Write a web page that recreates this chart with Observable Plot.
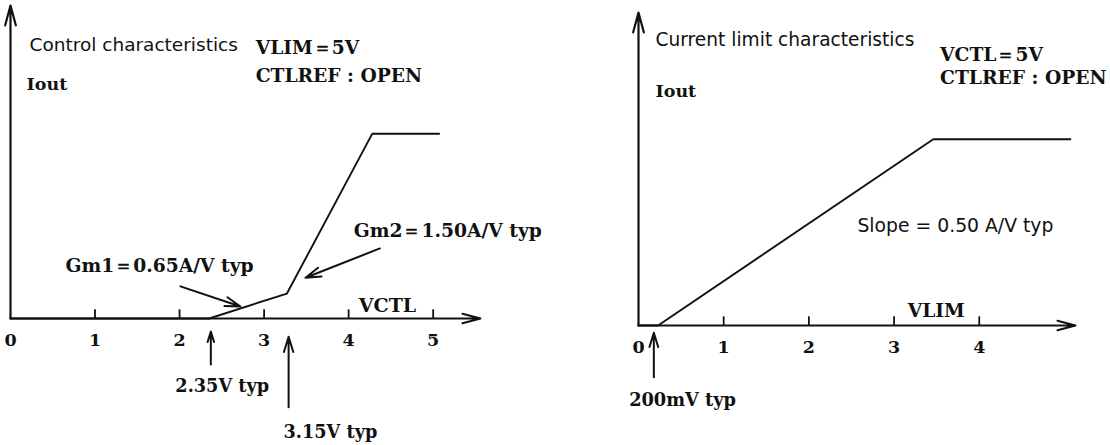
<!DOCTYPE html>
<html><head><meta charset="utf-8">
<script src="https://cdn.jsdelivr.net/npm/d3@7"></script>
<script src="https://cdn.jsdelivr.net/npm/@observablehq/plot@0.6"></script>
<style>
body{margin:0;background:#fff}
#wrap{position:relative;width:1110px;height:445px;background:#fff}
.p{position:absolute;top:0}
</style>
</head><body><div id="wrap"></div>
<script>
// Control characteristics (VLIM = 5V)
const ctlV = [0, 2.35, 3.27, 4.28, 5.07];
const ctlI = [0, 0, 0.52, 3.85, 3.85];
const ctlTicks = [0, 1, 2, 3, 4, 5];
// Current limit characteristics (VCTL = 5V)
const limV = [0, 0.23, 3.46, 5.07];
const limI = [0, 0, 3.88, 3.88];
const limTicks = [0, 1, 2, 3, 4];

const SERIF = "'DejaVu Serif', 'Liberation Serif', serif";
const SANS = "'DejaVu Sans', 'Liberation Sans', sans-serif";

function txt(s, x, y, o = {}) {
  return Plot.text([s], {x: () => x, y: () => y, text: d => d, textAnchor: "start", lineAnchor: "bottom",
    fontFamily: o.sans ? SANS : SERIF, fontWeight: o.sans ? "normal" : "bold",
    fontSize: o.size || 18.7, fill: "#111"});
}

function panel(opts) {
  const {V, I, ticks, xMax, yMax, ml, mr, mt, mb, texts, arrows} = opts;
  const pts = V.map((v, i) => ({v, i: I[i]}));
  const tickRows = ticks.map(t => ({t}));
  return Plot.plot({
    width: 555, height: 445,
    marginLeft: ml, marginRight: mr, marginTop: mt, marginBottom: mb,
    x: {domain: [0, xMax], axis: null},
    y: {domain: [0, yMax], axis: null},
    style: {background: "transparent", overflow: "visible"},
    marks: [
      // axes with arrowheads
      Plot.arrow([0], {x1: 0, y1: 0, x2: xMax, y2: 0, stroke: "#111", strokeWidth: 2, headLength: 14, headAngle: 30}),
      Plot.arrow([0], {x1: 0, y1: 0, x2: 0, y2: yMax, stroke: "#111", strokeWidth: 2.2, headLength: 14, headAngle: 30}),
      // tick marks
      Plot.ruleX(tickRows.filter(d => d.t > 0), {x: "t", y1: 0, y2: 0.18, stroke: "#111", strokeWidth: 1.8}),
      // tick labels
      Plot.text(tickRows, {x: "t", y: () => -0.57, text: d => String(d.t), lineAnchor: "bottom",
        fontFamily: SERIF, fontWeight: "bold", fontSize: 17.5, fill: "#111"}),
      // characteristic curve
      Plot.line(pts, {x: "v", y: "i", stroke: "#111", strokeWidth: 1.9}),
      // annotation arrows
      ...arrows.map(a => Plot.arrow([0], {x1: () => a[0], y1: () => a[1], x2: () => a[2], y2: () => a[3],
        stroke: "#111", strokeWidth: 2, headLength: 12, headAngle: 34})),
      ...texts
    ]
  });
}

const left = panel({
  V: ctlV, I: ctlI, ticks: ctlTicks, xMax: 5.56, yMax: 6.52,
  ml: 10, mr: 75, mt: 5, mb: 127,
  arrows: [
    [2.01, 0.67, 2.72, 0.25],
    [4.37, 1.46, 3.49, 0.85],
    [2.37, -0.96, 2.37, -0.27],
    [3.29, -1.85, 3.29, -0.38]
  ],
  texts: [
    txt("Control characteristics", 0.225, 5.58, {sans: true, size: 18.5}),
    txt("VLIM＝5V", 2.90, 5.52),
    txt("CTLREF : OPEN", 2.90, 4.92),
    txt("Iout", 0.19, 4.77, {size: 17.5}),
    txt("Gm1＝0.65A/V typ", 0.65, 0.96),
    txt("Gm2＝1.50A/V typ", 4.06, 1.69),
    txt("VCTL", 4.12, 0.125, {size: 19}),
    txt("2.35V typ", 1.95, -1.54, {size: 17.7}),
    txt("3.15V typ", 3.23, -2.48, {size: 17.7})
  ]
});

const right = panel({
  V: limV, I: limI, ticks: limTicks, xMax: 5.13, yMax: 6.52,
  ml: 83, mr: 35, mt: 12, mb: 120,
  arrows: [
    [0.18, -1.08, 0.18, -0.15]
  ],
  texts: [
    txt("Current limit characteristics", 0.20, 5.83, {sans: true, size: 18.6}),
    txt("VCTL＝5V", 3.54, 5.50),
    txt("CTLREF : OPEN", 3.54, 5.04),
    txt("Iout", 0.20, 4.77, {size: 17.5}),
    txt("Slope = 0.50 A/V typ", 2.57, 1.94, {sans: true, size: 18.8}),
    txt("VLIM", 3.16, 0.17),
    txt("200mV typ", -0.11, -1.67, {size: 17.8})
  ]
});

const wrap = document.getElementById("wrap");
left.classList.add("p"); left.style.left = "0px";
right.classList.add("p"); right.style.left = "555px";
wrap.appendChild(left);
wrap.appendChild(right);
</script>
</body></html>
